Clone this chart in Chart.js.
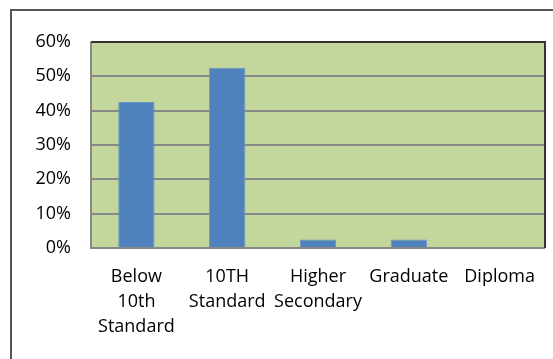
<!DOCTYPE html>
<html>
<head>
<meta charset="utf-8">
<script src="https://cdn.jsdelivr.net/npm/chart.js@4"></script>
<style>
  body { margin: 0; background: #fff; }
  #wrap { position: relative; width: 553px; height: 359px; overflow: hidden; }
  #frame { position: absolute; left: 10px; top: 9px; width: 600px; height: 400px; border: 2px solid #555; box-sizing: border-box; }
  canvas { position: absolute; left: 0; top: 0; }
</style>
</head>
<body>
<div id="wrap">
  <div id="frame"></div>
  <canvas id="chart" width="553" height="359"></canvas>
</div>
<script>
var categories = [['Below', '10th', 'Standard'], ['10TH', 'Standard'], ['Higher', 'Secondary'], 'Graduate', 'Diploma'];
var shares = [0.425, 0.525, 0.025, 0.025, 0];
var yTicks = [0, 0.1, 0.2, 0.3, 0.4, 0.5, 0.6];

// green plot background with frame
var plotFrame = {
    id: 'plotFrame',
    beforeDraw: function (chart) {
        var a = chart.chartArea, ctx = chart.ctx;
        ctx.save();
        ctx.fillStyle = '#C3D69B';
        ctx.fillRect(a.left, a.top, a.right - a.left, a.bottom - a.top);
        ctx.restore();
    },
    afterDatasetsDraw: function (chart) {
        var a = chart.chartArea, ctx = chart.ctx;
        ctx.save();
        ctx.lineWidth = 2;
        ctx.strokeStyle = '#888';
        ctx.beginPath();
        ctx.moveTo(a.left, a.top);
        ctx.lineTo(a.left, a.bottom);
        ctx.lineTo(a.right, a.bottom);
        ctx.stroke();
        ctx.strokeStyle = '#333';
        ctx.beginPath();
        ctx.moveTo(a.left, a.top);
        ctx.lineTo(a.right, a.top);
        ctx.lineTo(a.right, a.bottom);
        ctx.stroke();
        ctx.restore();
    }
};

new Chart(document.getElementById('chart'), {
    type: 'bar',
    data: {
        labels: categories,
        datasets: [{
            data: shares,
            backgroundColor: '#4F81BD',
            borderColor: '#6A95C8',
            borderWidth: 1,
            barPercentage: 0.8,
            categoryPercentage: 0.5
        }]
    },
    options: {
        responsive: false,
        animation: false,
        layout: { padding: { top: 42, right: 8, left: 0, bottom: 0 } },
        plugins: { legend: { display: false }, tooltip: { enabled: false } },
        scales: {
            x: {
                grid: { display: false, drawTicks: false },
                border: { display: false },
                ticks: {
                    color: '#000',
                    font: { family: 'Open Sans', size: 18, lineHeight: '25px' },
                    padding: 16,
                    maxRotation: 0,
                    autoSkip: false
                },
                afterFit: function (scale) { scale.height = 111; }
            },
            y: {
                min: 0,
                max: 0.6,
                afterBuildTicks: function (scale) {
                    scale.ticks = yTicks.map(function (v) { return { value: v }; });
                },
                grid: { color: '#888', lineWidth: 2, drawTicks: false },
                border: { display: false },
                ticks: {
                    color: '#000',
                    font: { family: 'Open Sans', size: 18 },
                    padding: 20,
                    callback: function (v) { return Math.round(v * 100) + '%'; }
                },
                afterFit: function (scale) { scale.width = 91; }
            }
        }
    },
    plugins: [plotFrame]
});
</script>
</body>
</html>
